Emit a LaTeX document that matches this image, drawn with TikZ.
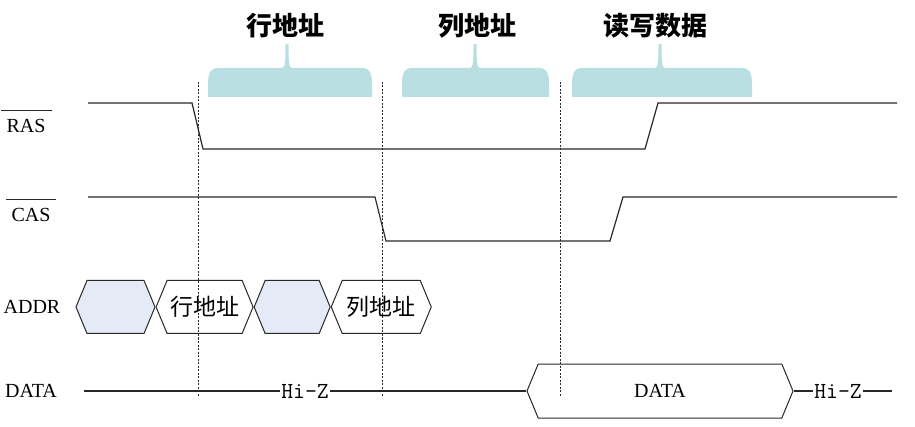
\documentclass[tikz,border=0pt]{standalone}
\usepackage{fontspec}
\setmainfont{Liberation Serif}
\newfontfamily\cjk{Noto Sans CJK SC}
\usetikzlibrary{positioning,shapes.symbols}

\definecolor{bracecol}{RGB}{185,223,226}
\definecolor{hexcol}{RGB}{228,234,246}
\definecolor{inkcol}{RGB}{40,40,40}

\tikzset{
  wave/.style={line width=1.2pt, inkcol},
  guide/.style={dash pattern=on 2pt off 1.5pt, line width=0.8pt, inkcol},
  lbl/.style={font=\fontsize{20}{23}\selectfont, inner sep=0pt},
  head/.style={font=\cjk\bfseries\fontsize{26}{30}\selectfont, inner sep=0pt},
  hexbox/.style={signal, signal to=east and west, signal pointer angle=135,
    draw=inkcol, line width=1pt, minimum height=53pt, inner sep=0pt,
    font=\cjk\fontsize{23}{26}\selectfont},
  hizlbl/.style={font=\ttfamily\fontsize{23}{26}\selectfont, inner sep=1pt}
}

\begin{document}
\begin{tikzpicture}[x=1pt,y=-1pt]
\useasboundingbox (0,0) rectangle (915,427);

% braces and titles
\foreach \xa/\xb/\xm in {208/372/287, 402/549/475, 572/752/660}{
  \fill[bracecol] (\xa,97) -- (\xa,84) .. controls (\xa,72) and (\xa+3,68) .. (\xa+10,68)
    -- (\xm-5,68) .. controls (\xm-2,68) and (\xm-1.5,62) .. (\xm-1.5,44)
    -- (\xm+1.5,44) .. controls (\xm+1.5,62) and (\xm+2,68) .. (\xm+5,68)
    -- (\xb-10,68) .. controls (\xb-3,68) and (\xb,72) .. (\xb,84) -- (\xb,97) -- cycle;
}
\node[head] (t1) at (285,26) {行地址};
\node[head] (t2) at (477,26) {列地址};
\node[head] (t3) at (655,26) {读写数据};

% signal names
\node[lbl] (ras) at (26,126) {RAS};
\draw[line width=0.9pt, inkcol] ([xshift=-5pt,yshift=9pt]ras.north west) -- ([xshift=6pt,yshift=9pt]ras.north east);
\node[lbl] (cas) at (31,215) {CAS};
\draw[line width=0.9pt, inkcol] ([xshift=-5pt,yshift=9pt]cas.north west) -- ([xshift=5pt,yshift=9pt]cas.north east);
\node[lbl] (addr) at (32,307) {ADDR};
\node[lbl] (data) at (31,391) {DATA};

% RAS
\coordinate (r0) at (88,103);
\coordinate (r1) at (192,103);
\coordinate (r2) at (203,149);
\coordinate (r3) at (645,149);
\coordinate (r4) at (658,103);
\coordinate (r5) at (897,103);
\draw[wave] (r0) -- (r1) -- (r2) -- (r3) -- (r4) -- (r5);

% CAS
\coordinate (c0) at (88,197);
\coordinate (c1) at (375,197);
\coordinate (c2) at (386,241);
\coordinate (c3) at (610,241);
\coordinate (c4) at (623,197);
\coordinate (c5) at (897,197);
\draw[wave] (c0) -- (c1) -- (c2) -- (c3) -- (c4) -- (c5);

% ADDR
\node[hexbox, fill=hexcol, minimum width=79pt] (a1) at (115.5,307) {};
\node[hexbox, minimum width=97pt, right=0pt of a1] (a2) {行地址};
\node[hexbox, fill=hexcol, minimum width=76pt, right=0pt of a2] (a3) {};
\node[hexbox, minimum width=100pt, right=0pt of a3] (a4) {列地址};

% DATA
\coordinate (d0) at (84,391);
\node[hizlbl] (hz1) at (305,391) {Hi-Z};
\node[hexbox, minimum width=266pt, minimum height=54pt, font=\fontsize{20}{23}\selectfont] (dd) at (660,391) {DATA};
\node[hizlbl] (hz2) at (838,391) {Hi-Z};
\coordinate (d1) at (892,391);
\draw[wave] (d0) -- (hz1);
\draw[wave] (hz1) -- (dd.west);
\draw[wave] (dd.east) -- (hz2);
\draw[wave] (hz2) -- (d1);

% guides
\foreach \x/\n in {198/1, 382/2, 560/3}{
  \coordinate (g\n t) at (\x,82);
  \coordinate (g\n b) at (\x,396);
  \draw[guide] (g\n t) -- (g\n b);
}
\end{tikzpicture}
\end{document}
